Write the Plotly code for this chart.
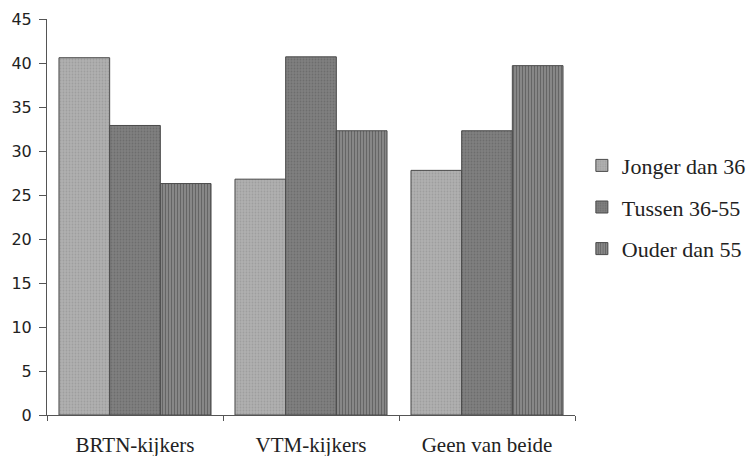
import plotly.graph_objects as go

categories = ["BRTN-kijkers", "VTM-kijkers", "Geen van beide"]
series_names = ["Jonger dan 36", "Tussen 36-55", "Ouder dan 55"]
jonger = [40.6, 26.8, 27.8]
tussen = [32.9, 40.7, 32.3]
ouder = [26.3, 32.3, 39.7]
y_ticks = [0, 5, 10, 15, 20, 25, 30, 35, 40, 45]

styles = [
    dict(bg="#b0b0b0", fg="#8c8c8c", shape=".", size=3, solidity=0.3),
    dict(bg="#808080", fg="#5a5a5a", shape=".", size=3, solidity=0.3),
    dict(bg="#8a8a8a", fg="#404040", shape="|", size=3, solidity=0.4),
]

fig = go.Figure()
for i, (name, vals) in enumerate(zip(series_names, [jonger, tussen, ouder])):
    s = styles[i]
    fig.add_trace(go.Bar(
        x=categories, y=vals, name=name, legendgroup=name,
        marker=dict(
            color=s["bg"],
            line=dict(color="#4a4a4a", width=1),
            pattern=dict(shape=s["shape"], fgcolor=s["fg"], bgcolor=s["bg"],
                         size=s["size"], solidity=s["solidity"], fillmode="overlay"),
        ),
    ))

# page body has an 8px margin, so the figure is drawn 8px in from the top-left
fig.update_layout(
    width=746, height=448,
    margin=dict(l=39, r=179, t=11, b=41, autoexpand=False),
    paper_bgcolor="white", plot_bgcolor="white",
    barmode="group", bargap=0.136, bargroupgap=0,
    font=dict(family="Liberation Serif", color="#222"),
    legend=dict(
        x=1.013, y=0.525, xanchor="left", yanchor="middle",
        font=dict(family="Liberation Serif", size=22, color="#222"),
        tracegroupgap=10, itemwidth=30,
    ),
    xaxis=dict(
        showline=True, linecolor="#555", linewidth=1,
        ticks="outside", ticklen=5, tickcolor="#555", tickson="boundaries",
        tickfont=dict(family="Liberation Serif", size=21, color="#222"),
        ticklabelstandoff=11, automargin=False,
        showgrid=False,
    ),
    xaxis2=dict(
        overlaying="x", anchor="y", range=[-0.5, 2.5],
        tickvals=[-0.5, 0.5, 1.5, 2.5], ticks="inside", ticklen=5,
        tickcolor="#555", showticklabels=False, showline=False,
        showgrid=False, zeroline=False, side="bottom", automargin=False,
    ),
    yaxis=dict(
        range=[0, 45], tickvals=y_ticks,
        showline=True, linecolor="#555", linewidth=1,
        ticks="outside", ticklen=7, tickcolor="#555",
        tickfont=dict(family="DejaVu Sans", size=16, color="#222"),
        ticklabelstandoff=4, automargin=False,
        showgrid=False, zeroline=False,
    ),
    yaxis2=dict(
        overlaying="y", anchor="x", range=[0, 45], tickvals=y_ticks,
        ticks="inside", ticklen=6, tickcolor="#555",
        showticklabels=False, showline=False, showgrid=False, zeroline=False,
        side="left", automargin=False,
    ),
)

fig.write_html("out.html")
